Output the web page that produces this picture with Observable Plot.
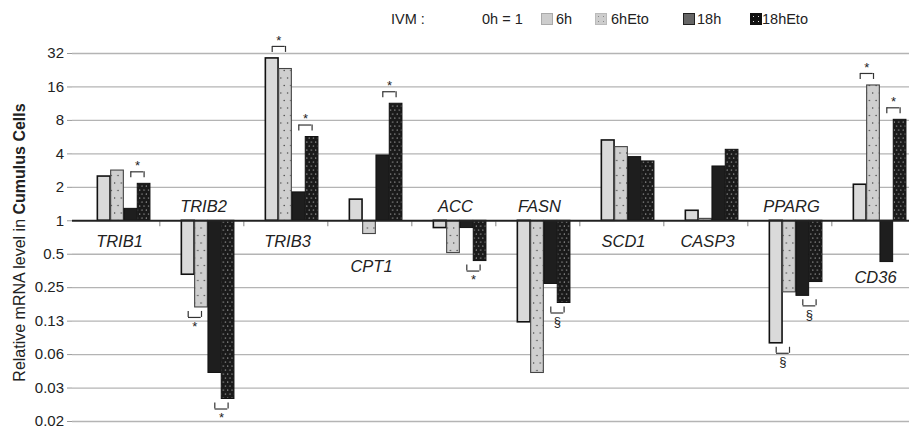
<!DOCTYPE html>
<html><head><meta charset="utf-8">
<script src="https://cdn.jsdelivr.net/npm/d3@7"></script>
<script src="https://cdn.jsdelivr.net/npm/@observablehq/plot@0.6"></script>
<style>
html,body{margin:0;padding:0;background:#fff}
body{font-family:"Liberation Sans",Arial,sans-serif;overflow:hidden;width:909px;height:429px;color:#222}
#wrap{position:relative;width:909px;height:429px}
#legend{position:absolute;left:0;top:0;width:909px;height:36px;font-size:14.5px}
#legend span{position:absolute;top:10px;line-height:18px;white-space:nowrap}
#legend i{position:absolute;top:13px;width:12px;height:12px;box-sizing:border-box;display:block}
</style></head><body>
<div id="wrap"><div id="chart"></div><div id="legend"></div></div>
<script>
// ---------- data ----------
const genes = ["TRIB1","TRIB2","TRIB3","CPT1","ACC","FASN","SCD1","CASP3","PPARG","CD36"];
const seriesNames = ["0h","6h","6hEto","18h","18hEto"];
const h0     = [1, 1, 1, 1, 1, 1, 1, 1, 1, 1];
const h6     = [2.5, 0.327, 28.9, 1.55, 0.86, 0.122, 5.28, 1.23, 0.079, 2.11];
const h6Eto  = [2.83, 0.166, 23.2, 0.76, 0.512, 0.0427, 4.6, 1.04, 0.227, 16.5];
const h18    = [1.28, 0.0427, 1.80, 3.87, 0.86, 0.27, 3.74, 3.08, 0.211, 0.425];
const h18Eto = [2.15, 0.0249, 5.67, 11.3, 0.434, 0.182, 3.42, 4.35, 0.281, 8.1];
const yTicks = [32, 16, 8, 4, 2, 1, 0.5, 0.25, 0.125, 0.0625, 0.03125, 0.015625];
const yTickLabels = ["32","16","8","4","2","1","0.5","0.25","0.13","0.06","0.03","0.02"];
// significance brackets: gene, compared pair (first series of the pair), symbol
const sigGenes   = ["TRIB1","TRIB2","TRIB2","TRIB3","TRIB3","CPT1","ACC","FASN","PPARG","PPARG","CD36","CD36"];
const sigPairs   = ["18h","6h","18h","6h","18h","18h","18h","18h","6h","18h","6h","18h"];
const sigSymbols = ["*","*","*","*","*","*","*","§","§","§","*","*"];
const legendTitle = "IVM :";
const legendRef = "0h = 1";

// ---------- tables ----------
const valuesBySeries = {"0h": h0, "6h": h6, "6hEto": h6Eto, "18h": h18, "18hEto": h18Eto};
const rows = [];
seriesNames.forEach(s => genes.forEach((g, i) => rows.push({gene: g, series: s, value: valuesBySeries[s][i]})));
const sig = sigGenes.map((g, k) => {
  const gi = genes.indexOf(g);
  const a = sigPairs[k], b = seriesNames[seriesNames.indexOf(a) + 1];
  const va = valuesBySeries[a][gi], vb = valuesBySeries[b][gi];
  const up = va > 1 || vb > 1;
  return {gene: g, pair: a, symbol: sigSymbols[k], up,
          anchor: up ? Math.max(va, vb) : Math.min(va, vb)};
});
const tickLabel = new Map(yTicks.map((t, i) => [t, yTickLabels[i]]));

// ---------- layout ----------
const W = 909, H = 429, ML = 72, XR = 918;
const bw = (XR - ML) / genes.length;
const sw = 13.3;
const pad = (bw - seriesNames.length * sw) / 2;
const style = {
  "6h":     {fill: "#dadada", stroke: "#111", strokeWidth: 1.6},
  "6hEto":  {fill: "url(#dotsLight)", stroke: "#444", strokeWidth: 1.1},
  "18h":    {fill: "#1e1e1e", stroke: "#111", strokeWidth: 1},
  "18hEto": {fill: "url(#dotsDark)", stroke: "#111", strokeWidth: 1}
};

const marks = [];
marks.push(Plot.ruleY(yTicks.filter(t => t !== 1), {stroke: "#b4b4b4", strokeWidth: 1.3}));
marks.push(Plot.ruleX(genes, {x: d => d, y1: () => 1, y2: () => 1, dx: bw / 2, insetTop: 1, insetBottom: -6, stroke: "#999", strokeWidth: 1.2}));
seriesNames.slice(1).forEach(s => {
  const i = seriesNames.indexOf(s);
  marks.push(Plot.barY(rows.filter(r => r.series === s), {
    x: "gene", y1: () => 1, y2: "value",
    insetLeft: pad + i * sw, insetRight: bw - pad - (i + 1) * sw,
    ...style[s]
  }));
});
marks.push(Plot.ruleY([1], {stroke: "#222", strokeWidth: 2.2}));
marks.push(Plot.axisY({ticks: yTicks, tickFormat: d => tickLabel.get(d), tickSize: 5, tickPadding: 3.5,
  fontSize: 15, stroke: "#999", fill: "#222", line: true, label: null}));

// gene labels
const allVals = g => ["6h","6hEto","18h","18hEto"].map(s => valuesBySeries[s][genes.indexOf(g)]);
const labelExtra = {CPT1: 25, CD36: 36};
const labelDy = g => allVals(g).every(v => v < 1) ? -14 : 21 + (labelExtra[g] || 0);
[...new Set(genes.map(labelDy))].forEach(dy => {
  marks.push(Plot.text(genes.filter(g => labelDy(g) === dy), {x: d => d, y: () => 1, text: d => d, dy, dx: 2,
    fontSize: 16.5, fontStyle: "italic", fill: "#222"}));
});

// brackets
[true, false].forEach(up => ["6h", "18h"].forEach(pair => {
  const sub = sig.filter(d => d.up === up && d.pair === pair);
  if (!sub.length) return;
  const i = seriesNames.indexOf(pair);
  const cl = pad + (i + 0.5) * sw, cr = pad + (i + 1.5) * sw; // from band start
  marks.push(Plot.tickY(sub, {x: "gene", y: "anchor", dy: up ? -12 : 10, insetLeft: cl, insetRight: bw - cr, stroke: "#333", strokeWidth: 1.2}));
  [cl, cr].forEach(c => marks.push(Plot.ruleX(sub, {x: "gene", y1: "anchor", y2: "anchor", dx: c - bw / 2,
    insetTop: up ? -12 : 4, insetBottom: up ? 6 : -10, stroke: "#333", strokeWidth: 1.2})));
  marks.push(Plot.text(sub, {x: "gene", y: "anchor", text: "symbol", dx: (cl + cr) / 2 - bw / 2,
    dy: up ? -18 : 19, fontSize: 13, fill: "#222"}));
}));

const svg = Plot.plot({
  width: W, height: H, marginLeft: ML, marginRight: 0, marginTop: 53, marginBottom: 8,
  style: {fontFamily: "'Liberation Sans', Arial, sans-serif", background: "#fff", color: "#222"},
  x: {type: "band", domain: genes, range: [ML, XR], padding: 0, axis: null},
  y: {type: "log", base: 2, domain: [yTicks[yTicks.length - 1], yTicks[0]], axis: null},
  marks
});

// patterns + y title
const defs = d3.select(svg).insert("defs", ":first-child");
const p1 = defs.append("pattern").attr("id", "dotsLight").attr("patternUnits", "userSpaceOnUse").attr("width", 6.65).attr("height", 15);
p1.append("rect").attr("width", 6.65).attr("height", 15).attr("fill", "#cfcfcf");
p1.append("circle").attr("cx", 1.6).attr("cy", 3).attr("r", 0.65).attr("fill", "#333");
p1.append("circle").attr("cx", 4.9).attr("cy", 10.5).attr("r", 0.65).attr("fill", "#333");
const p2 = defs.append("pattern").attr("id", "dotsDark").attr("patternUnits", "userSpaceOnUse").attr("width", 4.4).attr("height", 8);
p2.append("rect").attr("width", 4.4).attr("height", 8).attr("fill", "#1a1a1a");
p2.append("circle").attr("cx", 1.1).attr("cy", 2).attr("r", 0.55).attr("fill", "#fff");
p2.append("circle").attr("cx", 3.3).attr("cy", 6).attr("r", 0.55).attr("fill", "#fff");
const t = d3.select(svg).append("text").attr("transform", "translate(25,242.5) rotate(-90)")
  .attr("text-anchor", "middle").attr("font-size", 16).attr("fill", "#222");
t.append("tspan").text("Relative mRNA level in ");
t.append("tspan").attr("font-weight", "bold").text("Cumulus Cells");
document.getElementById("chart").appendChild(svg);

// legend
const lg = document.getElementById("legend");
const addText = (txt, x) => { const e = document.createElement("span"); e.textContent = txt; e.style.left = x + "px"; lg.appendChild(e); };
const addSw = (x, css) => { const e = document.createElement("i"); e.style.left = x + "px"; Object.assign(e.style, css); lg.appendChild(e); };
addText(legendTitle, 391);
addText(legendRef, 482);
const legX = {"6h": [541, 556], "6hEto": [595, 611], "18h": [683, 697], "18hEto": [750, 762]};
const swCss = {
  "6h": {background: "#cdcdcd", border: "1px solid #aaa"},
  "6hEto": {background: "radial-gradient(circle, #888 0.7px, transparent 1px) 0 0/5px 5px, #cdcdcd", border: "1px solid #bbb"},
  "18h": {background: "#666", border: "1.5px solid #222"},
  "18hEto": {background: "radial-gradient(circle, #ddd 0.6px, transparent 1px) 0 0/5px 5px, #111", border: "1px solid #111"}
};
seriesNames.slice(1).forEach(s => { addSw(legX[s][0], swCss[s]); addText(s, legX[s][1]); });
</script>
</body></html>
